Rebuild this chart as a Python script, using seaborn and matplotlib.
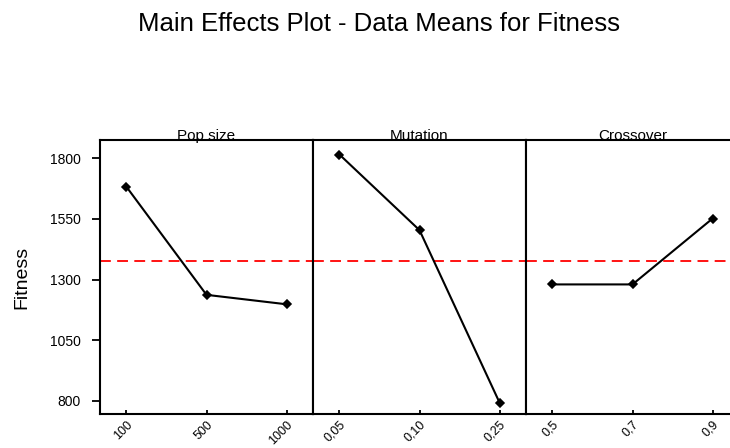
import numpy as np
import pandas as pd
import seaborn as sns
import matplotlib.pyplot as plt

sns.set_theme(style="white")
plt.rcParams['font.family'] = ['Liberation Sans', 'DejaVu Sans']
plt.rcParams['text.color'] = 'black'
plt.rcParams['xtick.color'] = 'black'
plt.rcParams['ytick.color'] = 'black'
plt.rcParams['axes.labelcolor'] = 'black'

# ---- data ----
factors = ['Pop size', 'Mutation', 'Crossover']
pop_levels = ['100', '500', '1000']
pop_means = [1683, 1237, 1198]
mut_levels = ['0,05', '0,10', '0,25']
mut_means = [1816, 1504, 792]
cross_levels = ['0,5', '0,7', '0,9']
cross_means = [1280, 1280, 1552]
grand_mean = 1375
y_ticks = [800, 1050, 1300, 1550, 1800]

levels = [pop_levels, mut_levels, cross_levels]
means = [pop_means, mut_means, cross_means]

W, H = 730, 448
fig = plt.figure(figsize=(W / 100, H / 100), dpi=100)

left_px, panel_w, top_px, bot_px = 100, 213, 140, 414.3
axes = []
for i, (fac, lv, mv) in enumerate(zip(factors, levels, means)):
    ax = fig.add_axes([(left_px + i * panel_w) / W, (H - bot_px) / H,
                       panel_w / W, (bot_px - top_px) / H])
    df = pd.DataFrame({'level': lv, 'Fitness': mv})
    sns.pointplot(data=df, x='level', y='Fitness', ax=ax, color='black',
                  marker='D', markersize=4.5, linewidth=1.5, errorbar=None)
    ax.axhline(grand_mean, color='red', lw=1.3, ls=(0, (6, 3.5)), zorder=0)
    ax.set_xlim(-0.33, 2.33)
    ax.set_ylim(744, 1876)
    ax.set_xlabel('')
    ax.set_ylabel('')
    for s in ax.spines.values():
        s.set_color('black')
        s.set_linewidth(1.5)
    ax.tick_params(axis='x', direction='in', length=3, width=1.3, color='black',
                   labelsize=9, pad=3, bottom=True)
    plt.setp(ax.get_xticklabels(), rotation=45, ha='right', va='top',
             rotation_mode='anchor')
    ax.set_yticks(y_ticks)
    if i == 0:
        ax.tick_params(axis='y', direction='out', length=6, width=1.3,
                       color='black', labelsize=10, pad=8, left=True)
    else:
        ax.tick_params(axis='y', left=False, labelleft=False)
    ax.text(0.5, 1.0, fac, transform=ax.transAxes, ha='center', va='baseline',
            fontsize=11)
    ax.grid(False)
    axes.append(ax)

fig.text(21.5 / W, 1 - 277 / H, 'Fitness', rotation=90, ha='center',
         va='center', fontsize=14)
fig.text(379 / W, 1 - 31 / H, 'Main Effects Plot - Data Means for Fitness',
         ha='center', va='baseline', fontsize=18.5)

fig.savefig('out.png', dpi=100)
